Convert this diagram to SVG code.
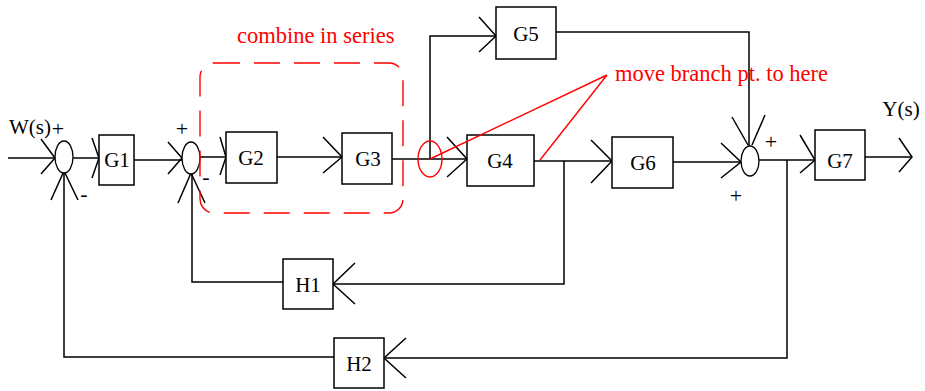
<svg xmlns="http://www.w3.org/2000/svg" width="925" height="391" viewBox="0 0 925 391">
<style>
.box{fill:#fff;stroke:#000;stroke-width:1.5}
.sum{fill:#fff;stroke:#000;stroke-width:1.3}
.ln{fill:none;stroke:#000;stroke-width:1.5}
.lbl{font-family:"Liberation Serif","Times New Roman",serif;font-size:21px;fill:#000;text-anchor:middle}
.sign{font-family:"Liberation Serif","Times New Roman",serif;font-size:22px;fill:#000;text-anchor:middle}
.red{font-family:"Liberation Serif","Times New Roman",serif;font-size:22.5px;fill:#f00}
.rl{fill:none;stroke:#f00;stroke-width:1.4}
</style>
<rect width="925" height="391" fill="#fff"/>
<g id="connectors" class="ln">
<path d="M8,158 H55"/><path d="M41,139 L55,158 L41,174"/>
<path d="M334,357 H64 V172"/><path d="M51,200 L64,171 L78,200"/>
<path d="M73,158 H99"/><path d="M92,138 L99,158 L92,178"/>
<path d="M134,160 H182"/><path d="M168,142 L182,158 L168,174"/>
<path d="M200,157 H226"/><path d="M220,137 L226,157 L220,175"/>
<path d="M277,157 H342"/><path d="M323,137 L342,157 L323,173"/>
<path d="M392,159 H467"/><path d="M447,137 L467,159 L447,177"/>
<path d="M430,159 V36 H496"/><path d="M479,17 L496,36 L479,52"/>
<path d="M556,32 H749 V146"/><path d="M732,117 L748,145"/><path d="M765,115 L752,145"/>
<path d="M534,161 H612"/><path d="M591,140 L612,161 L591,183"/>
<path d="M564,161 V284 H333"/><path d="M355,263 L333,284 L355,304"/>
<path d="M283,282 H192 V174"/><path d="M178,203 L191,173 L205,203"/>
<path d="M673,162 H741"/><path d="M721,143 L741,162 L721,178"/>
<path d="M759,160 H815"/><path d="M800,135 L815,160 L800,173"/>
<path d="M787,160 V358 H384"/><path d="M406,338 L384,358 L406,378"/>
<path d="M865,157 H912"/><path d="M899,138 L912,157 L899,172"/>
</g>
<g id="sum1"><ellipse class="sum" cx="64" cy="157" rx="9" ry="16"/></g>
<g id="sum2"><ellipse class="sum" cx="191" cy="158" rx="9" ry="16"/></g>
<g id="sum3"><ellipse class="sum" cx="750" cy="161" rx="9" ry="15"/></g>
<g id="G1"><rect class="box" x="99" y="135" width="35" height="50"/><text class="lbl" x="117" y="167">G1</text></g>
<g id="G2"><rect class="box" x="226" y="132" width="51" height="51"/><text class="lbl" x="251" y="165">G2</text></g>
<g id="G3"><rect class="box" x="342" y="133" width="50" height="51"/><text class="lbl" x="368" y="166">G3</text></g>
<g id="G4"><rect class="box" x="467" y="135" width="67" height="51"/><text class="lbl" x="500" y="168">G4</text></g>
<g id="G5"><rect class="box" x="496" y="7" width="60" height="52"/><text class="lbl" x="526" y="41">G5</text></g>
<g id="G6"><rect class="box" x="612" y="137" width="61" height="51"/><text class="lbl" x="643" y="170">G6</text></g>
<g id="G7"><rect class="box" x="815" y="130" width="50" height="50"/><text class="lbl" x="840" y="168">G7</text></g>
<g id="H1"><rect class="box" x="283" y="259" width="50" height="50"/><text class="lbl" x="308" y="292">H1</text></g>
<g id="H2"><rect class="box" x="334" y="338" width="50" height="50"/><text class="lbl" x="359" y="371">H2</text></g>
<g id="signals">
<text class="lbl" x="30" y="134">W(s)</text>
<text class="lbl" x="901" y="116">Y(s)</text>
<text class="sign" x="58" y="136">+</text>
<text class="sign" x="84" y="201">-</text>
<text class="sign" x="182" y="136">+</text>
<text class="sign" x="206" y="184">-</text>
<text class="sign" x="771" y="149">+</text>
<text class="sign" x="736" y="203">+</text>
</g>
<g id="annotations">
<rect class="rl" x="200" y="63" width="203" height="150" rx="14" stroke-dasharray="26 14"/>
<text class="red" x="237" y="43">combine in series</text>
<ellipse class="rl" cx="430" cy="159" rx="12" ry="18"/>
<path class="rl" d="M430,159 L607,75 M540,160 L607,75"/>
<text class="red" x="615" y="81">move branch pt. to here</text>
</g>
</svg>
